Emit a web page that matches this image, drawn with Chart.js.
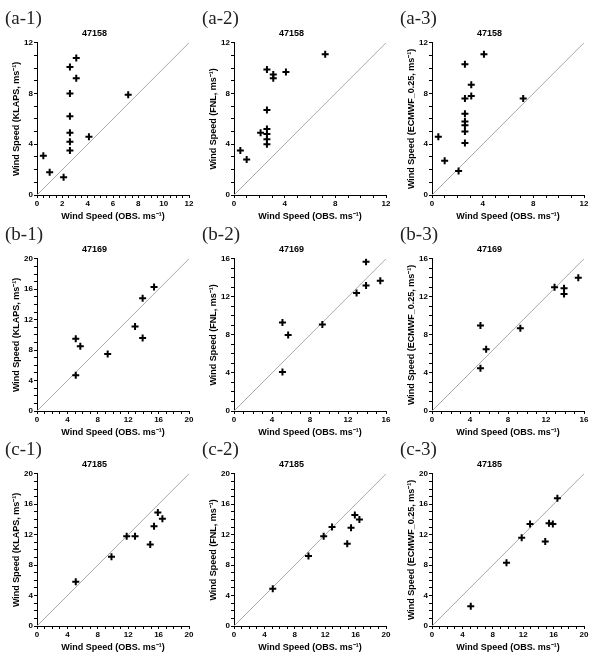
<!DOCTYPE html>
<html>
<head>
<meta charset="utf-8">
<script src="https://cdn.jsdelivr.net/npm/chart.js@4/dist/chart.umd.min.js"></script>
<style>
  body { margin: 0; background: #fff; width: 596px; height: 658px; position: relative; overflow: hidden; }
  canvas { position: absolute; }
  .tag { position: absolute; font-family: "Liberation Serif", "DejaVu Serif", serif; font-size: 19px; color: #222; line-height: 1; }
</style>
</head>
<body>
<script>
// ==========================================
// Dados (OBS x modelos)
// ==========================================
const estacoes = ['47158', '47169', '47185'];
const modelos = ['KLAPS', 'FNL', 'ECMWF_0.25'];
const paineis = ['(a-1)', '(a-2)', '(a-3)', '(b-1)', '(b-2)', '(b-3)', '(c-1)', '(c-2)', '(c-3)'];

// estacao 47158
const obsA = [0.5, 1.0, 2.1, 2.6, 2.6, 2.6, 2.6, 2.6, 2.6, 3.1, 3.1, 4.1, 7.2];
const klapsA = [3.1, 1.8, 1.4, 3.5, 4.2, 4.9, 6.2, 8.0, 10.1, 10.8, 9.2, 4.6, 7.9];
const fnlA = [3.5, 2.8, 4.9, 9.9, 6.7, 5.2, 4.8, 4.4, 4.0, 9.5, 9.2, 9.7, 11.1];
const obsA3 = [0.5, 1.0, 2.1, 2.6, 2.6, 2.6, 2.6, 2.6, 2.6, 2.6, 3.1, 3.1, 4.1, 7.2];
const ecmwfA = [4.6, 2.7, 1.9, 10.3, 7.6, 6.4, 5.8, 5.5, 5.0, 4.1, 8.7, 7.8, 11.1, 7.6];

// estacao 47169
const obsB = [5.1, 5.1, 5.7, 9.3, 12.9, 13.9, 13.9, 15.4];
const klapsB = [4.7, 9.5, 8.5, 7.5, 11.1, 14.8, 9.6, 16.3];
const fnlB = [4.1, 9.3, 8.0, 9.1, 12.4, 15.7, 13.2, 13.7];
const ecmwfB = [4.5, 9.0, 6.5, 8.7, 13.0, 12.9, 12.3, 14.0];

// estacao 47185
const obsC = [5.1, 9.8, 11.8, 12.9, 14.9, 15.4, 15.9, 16.5];
const klapsC = [5.8, 9.1, 11.8, 11.8, 10.7, 13.1, 14.9, 14.1];
const fnlC = [4.9, 9.2, 11.8, 13.0, 10.8, 12.9, 14.6, 14.0];
const ecmwfC = [2.6, 8.3, 11.6, 13.4, 11.1, 13.5, 13.4, 16.8];

// limites dos eixos e passo dos rotulos (x / y)
const maxEixo = [12, 12, 12, 20, 16, 16, 20, 20, 20];
const passoX = [2, 4, 4, 4, 4, 4, 4, 4, 4];
const passoY = [4, 4, 4, 4, 4, 4, 4, 4, 4];

const series = [
    [obsA, klapsA], [obsA, fnlA], [obsA3, ecmwfA],
    [obsB, klapsB], [obsB, fnlB], [obsB, ecmwfB],
    [obsC, klapsC], [obsC, fnlC], [obsC, ecmwfC]
];

// posicao dos canvases na pagina
const colLeft = [0, 197, 395];
const rowTop = [21, 237, 452];
const tagPos = [[5, 8], [202, 8], [400, 8], [5, 224], [202, 224], [400, 224], [5, 439], [202, 439], [400, 439]];

const fonteTxt = 'Liberation Sans, Arial, sans-serif';

function montarPainel(i) {
    let lin = Math.floor(i / 3), col = i % 3;
    let [xs, ys] = series[i];
    let maxV = maxEixo[i];

    let cv = document.createElement('canvas');
    cv.width = 195; cv.height = 204;
    cv.style.left = colLeft[col] + 'px';
    cv.style.top = rowTop[lin] + 'px';
    document.body.appendChild(cv);

    let tag = document.createElement('div');
    tag.className = 'tag';
    tag.innerText = paineis[i];
    tag.style.left = tagPos[i][0] + 'px';
    tag.style.top = tagPos[i][1] + 'px';
    document.body.appendChild(tag);

    let pontos = xs.map((x, k) => ({ x: x, y: ys[k] }));

    let eixo = (passo, minor) => ({
        type: 'linear', min: 0, max: maxV,
        border: { display: true, color: '#000', width: 1 },
        grid: { drawOnChartArea: false, drawTicks: true, tickLength: 3, color: '#000' },
        ticks: {
            stepSize: minor, autoSkip: false, maxRotation: 0, padding: 1, color: '#000',
            font: { family: fonteTxt, size: 8, weight: 'bold' },
            callback: v => (Math.abs(v % passo) < 1e-6 ? String(v) : '')
        }
    });

    let x = eixo(passoX[i], passoX[i] / 4);
    x.title = { display: true, text: 'Wind Speed (OBS. ms\u207B\u00B9)', color: '#000',
        font: { family: fonteTxt, size: 9, weight: 'bold' }, padding: { top: 0, bottom: 3 } };
    x.afterFit = s => { s.height = 30; };

    let y = eixo(passoY[i], passoY[i] / 4);
    y.title = { display: true, text: `Wind Speed (${modelos[col]}, ms\u207B\u00B9)`, color: '#000',
        font: { family: fonteTxt, size: 9, weight: 'bold' }, padding: { top: 11, bottom: 0 } };
    y.afterFit = s => { s.width = 37; };

    new Chart(cv, {
        type: 'scatter',
        data: {
            datasets: [
                {
                    data: pontos,
                    pointStyle: 'cross',
                    pointRadius: 3.5,
                    pointBorderWidth: 2,
                    borderColor: '#000',
                    backgroundColor: '#000'
                },
                {
                    data: [{ x: 0, y: 0 }, { x: maxV, y: maxV }],
                    showLine: true,
                    pointRadius: 0,
                    borderColor: '#a8a8a8',
                    borderWidth: 1
                }
            ]
        },
        options: {
            responsive: false,
            animation: false,
            devicePixelRatio: 1,
            layout: { padding: { left: 0, right: 6, top: 0, bottom: 0 } },
            plugins: {
                legend: { display: false },
                tooltip: { enabled: false },
                title: { display: true, text: estacoes[lin], color: '#000',
                    font: { family: fonteTxt, size: 9, weight: 'bold' }, padding: { top: 7, bottom: 4 } }
            },
            scales: { x: x, y: y }
        }
    });
}

for (let i = 0; i < 9; i++) montarPainel(i);
</script>
</body>
</html>
